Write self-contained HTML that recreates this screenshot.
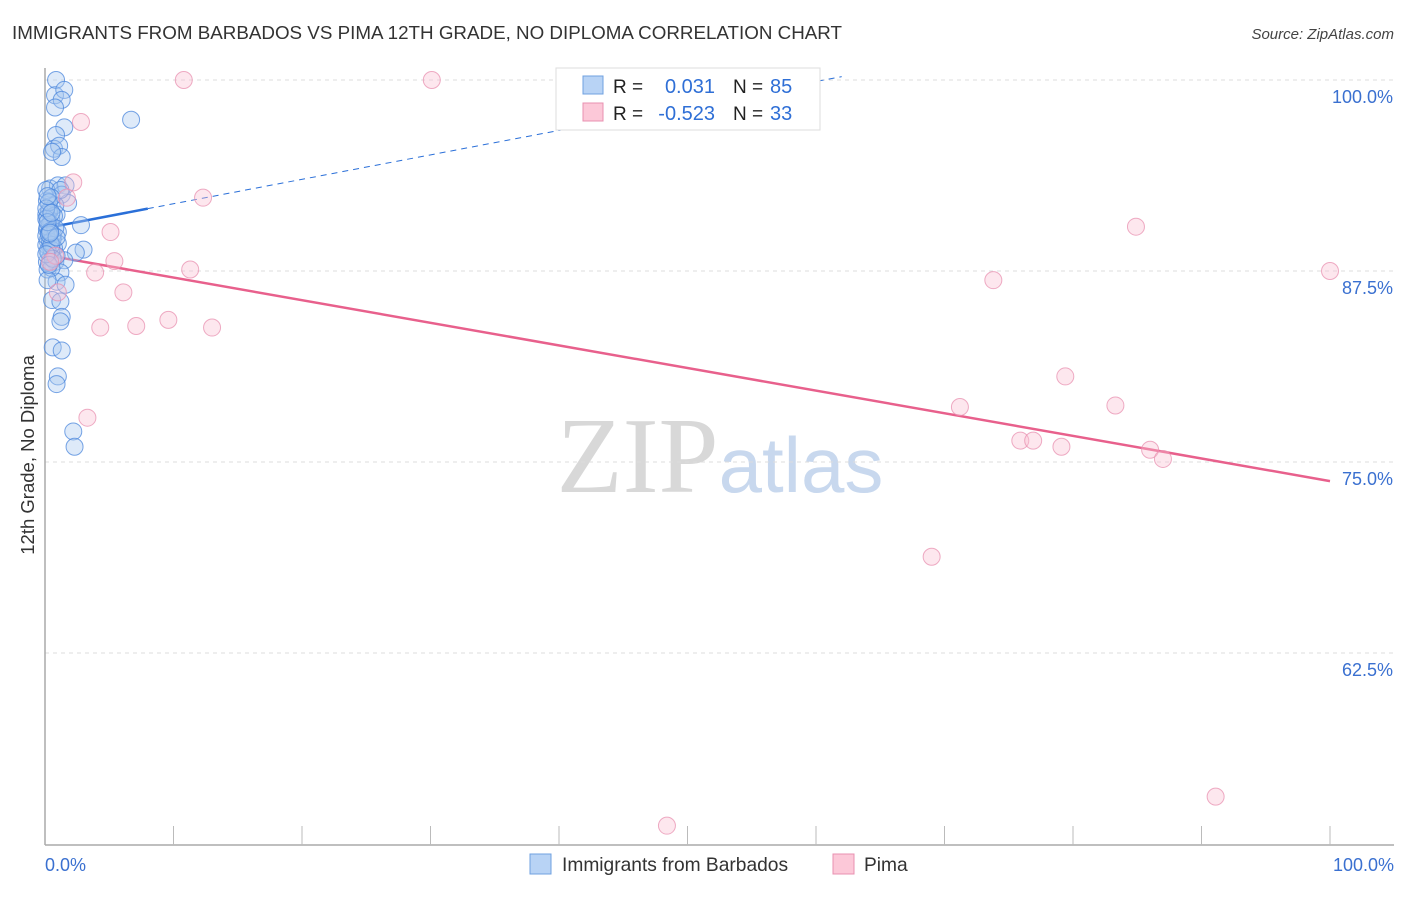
<!DOCTYPE html>
<html><head><meta charset="utf-8"><style>
body{margin:0;background:#fff;font-family:"Liberation Sans",sans-serif;}
svg text{font-family:"Liberation Sans",sans-serif;}
</style></head><body>
<svg id="chart" width="1406" height="892" xmlns="http://www.w3.org/2000/svg">
<text x="12" y="39" font-size="18.8" fill="#333">IMMIGRANTS FROM BARBADOS VS PIMA 12TH GRADE, NO DIPLOMA CORRELATION CHART</text>
<text x="1394" y="39" font-size="15" fill="#444" text-anchor="end" font-style="italic">Source: ZipAtlas.com</text>
<text x="720" y="492" font-size="108" text-anchor="middle"><tspan fill="#d8d8d8" font-family="Liberation Serif,serif">ZIP</tspan><tspan fill="#c8d8ee" font-size="78">atlas</tspan></text>
<text transform="translate(34,455) rotate(-90)" font-size="18.5" fill="#333" text-anchor="middle">12th Grade, No Diploma</text>
<g id="grid"></g><g id="axes"></g><g id="trend"></g><g id="pts"></g>
<g>
<rect x="556" y="68" width="264" height="62" fill="#fff" stroke="#ddd"/>
<rect x="583" y="76" width="20" height="18" fill="#b8d3f5" stroke="#6fa0e0"/>
<rect x="583" y="103" width="20" height="18" fill="#fcc8d8" stroke="#e890b0"/>
<text x="613" y="93" font-size="19" fill="#222">R =</text><text x="715" y="93" font-size="20" fill="#2f6fd6" text-anchor="end">0.031</text>
<text x="733" y="93" font-size="19" fill="#222">N =</text><text x="770" y="93" font-size="20" fill="#2f6fd6">85</text>
<text x="613" y="120" font-size="19" fill="#222">R =</text><text x="715" y="120" font-size="20" fill="#2f6fd6" text-anchor="end">-0.523</text>
<text x="733" y="120" font-size="19" fill="#222">N =</text><text x="770" y="120" font-size="20" fill="#2f6fd6">33</text>
</g>
<g>
<rect x="530" y="854" width="21" height="20" fill="#b8d3f5" stroke="#6fa0e0"/>
<text x="562" y="871" font-size="19.2" fill="#333">Immigrants from Barbados</text>
<rect x="833" y="854" width="21" height="20" fill="#fcc8d8" stroke="#e890b0"/>
<text x="864" y="871" font-size="19.2" fill="#333">Pima</text>
</g>
</svg>
<script>
const blueX=[0.86,0.78,1.5,1.3,0.78,6.7,1.5,0.86,0.7,1.1,1.3,0.55,0.4,1.0,1.6,1.3,1.8,0.4,0.9,0.4,2.8,1.0,0.2,1.0,3.0,2.4,0.4,0.8,1.5,0.2,1.2,0.9,1.6,0.55,1.2,1.3,1.2,0.6,1.3,1.0,0.9,2.2,2.3,0.15,0.1,0.15,0.1,0.3,0.5,0.8,0.6,0.15,0.5,0.1,1.2,0.5,0.7,0.2,0.9,0.3,0.2,0.6,0.4,0.1,0.3,0.5,0.2,0.7,0.4,0.1,0.3,0.8,0.2,0.5,0.1,0.4,0.6,0.3,0.2,0.1,0.5,0.3,0.9,0.2,0.4];
const blueY=[100,99,99.35,98.7,98.2,97.4,96.9,96.4,95.5,95.7,94.96,95.3,92.9,93.1,93.1,92.5,91.95,91.5,91.2,90.5,90.5,90.05,89.5,89.3,88.9,88.7,88.4,88.1,88.2,87.6,87.4,86.8,86.6,85.6,85.5,84.5,84.2,82.5,82.3,80.6,80.1,77.0,76.0,92.1,91.2,90.2,89.2,88.7,90.8,91.8,89.9,88.1,87.7,92.8,92.8,92.3,89.0,86.9,88.5,90.0,91.0,89.6,90.6,89.8,91.4,88.9,90.4,91.1,89.4,90.9,92.0,90.3,88.8,89.2,91.6,90.1,88.3,89.9,90.7,88.6,91.3,87.9,89.7,92.4,90.0];
const pinkX=[10.8,30.1,2.8,2.2,1.7,12.3,5.1,5.4,11.3,3.9,6.1,4.3,7.1,9.6,13.0,3.3,0.8,0.4,1.0,84.9,100,73.8,79.4,71.2,83.3,75.9,76.9,79.1,86.0,87.0,69.0,91.1,48.4];
const pinkY=[100,100,97.25,93.3,92.3,92.3,90.05,88.15,87.6,87.4,86.1,83.8,83.9,84.3,83.8,77.9,88.5,88.1,86.1,90.4,87.5,86.9,80.6,78.6,78.7,76.4,76.4,76.0,75.8,75.2,68.8,53.1,51.2];
const yTicks=[100,87.5,75,62.5];
const yTickLabels=["100.0%","87.5%","75.0%","62.5%"];
const blueTrend=[90.3,0.16];
const pinkTrend=[88.55,-0.148];
const NS="http://www.w3.org/2000/svg";
const sx=v=>45+v*12.85, sy=v=>80+(100-v)*15.28;
function mk(t,a,p){const e=document.createElementNS(NS,t);for(const k in a)e.setAttribute(k,a[k]);document.getElementById(p).appendChild(e);return e;}
yTicks.forEach((t,i)=>{
 const l=mk('line',{x1:45,x2:1394,y1:sy(t),y2:sy(t),stroke:'#ddd','stroke-dasharray':'4,4'},'grid');
 
 
 const tx=mk('text',{x:1393,y:sy(t)+23,'font-size':18,fill:'#3a70d0','text-anchor':'end'},'grid');
 tx.textContent=yTickLabels[i];
 
 
});
const ax=mk('line',{x1:45,x2:1394,y1:845,y2:845,stroke:'#aaa','stroke-width':1.5},'axes');


const ay=mk('line',{x1:45,x2:45,y1:68,y2:845,stroke:'#aaa','stroke-width':1.5},'axes');


for(let i=1;i<=10;i++){const t=mk('line',{x1:sx(i*10),x2:sx(i*10),y1:826,y2:845,stroke:'#bbb'},'axes');
 
 }
[[0,"0.0%","start",45],[100,"100.0%","end",1394]].forEach(d=>{const t=mk('text',{x:d[3],y:871,'font-size':18,fill:'#3a70d0','text-anchor':d[2]},'axes');t.textContent=d[1];
 
 });
function pts(X,Y,f,s,name){X.forEach((x,i)=>{const c=mk('circle',{cx:sx(x),cy:sy(Y[i]),r:8.5,fill:f,'fill-opacity':0.38,stroke:s,'stroke-opacity':0.75},'pts');
 
 });}
pts(blueX,blueY,'#a8c8f0','#4a86dc','barbados-point');
pts(pinkX,pinkY,'#fbc0d2','#e890b0','pima-point');
const b1=mk('line',{x1:sx(0),y1:sy(blueTrend[0]),x2:sx(8),y2:sy(blueTrend[0]+8*blueTrend[1]),stroke:'#2a6fd8','stroke-width':2.5},'trend');


const b2=mk('line',{x1:sx(8),y1:sy(blueTrend[0]+8*blueTrend[1]),x2:sx(62),y2:sy(blueTrend[0]+62*blueTrend[1]),stroke:'#2a6fd8','stroke-width':1,'stroke-dasharray':'6,5'},'trend');


const p1=mk('line',{x1:sx(0),y1:sy(pinkTrend[0]),x2:sx(100),y2:sy(pinkTrend[0]+100*pinkTrend[1]),stroke:'#e8608c','stroke-width':2.5},'trend');


</script>
</body></html>
